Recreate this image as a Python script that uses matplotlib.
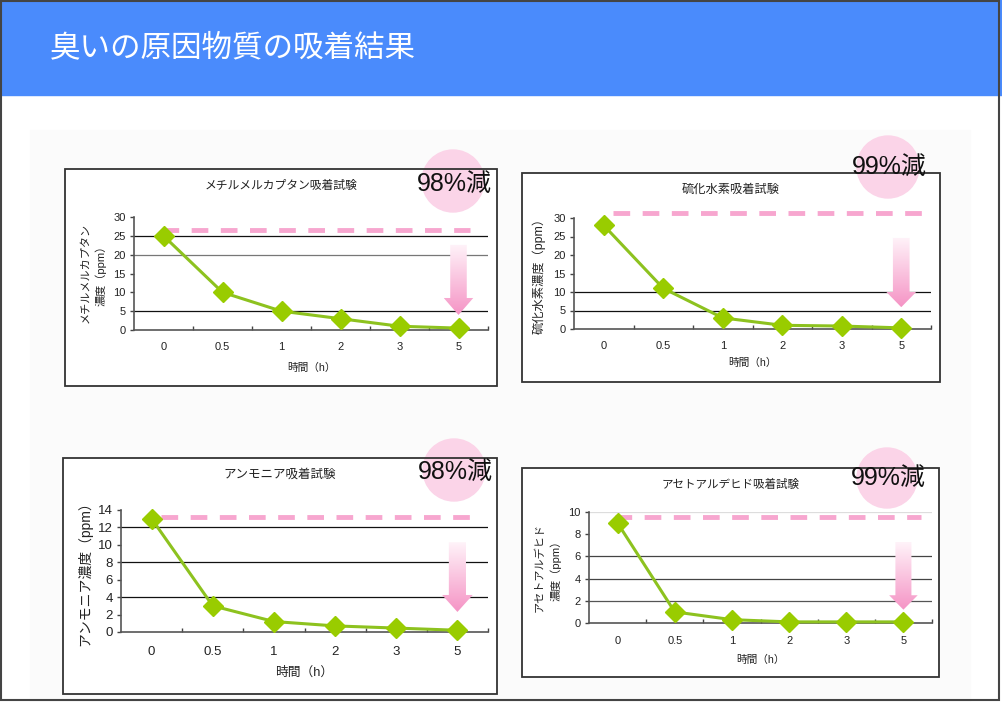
import numpy as np
import matplotlib
matplotlib.use("Agg")
import matplotlib.pyplot as plt
from matplotlib.patches import Rectangle, Circle, Polygon
from matplotlib.colors import to_rgba

plt.rcParams['font.family'] = ['Liberation Sans', 'Noto Sans CJK JP']
plt.rcParams['lines.scale_dashes'] = False

W, H = 1002, 702

# ---------------------------------------------------------
# data
# ---------------------------------------------------------
times = ["0", "0.5", "1", "2", "3", "5"]
methyl_mercaptan = [25, 10, 5, 3, 1, 0.5]
hydrogen_sulfide = [28, 11, 3, 1, 0.8, 0.3]
ammonia = [13, 3, 1.2, 0.7, 0.45, 0.2]
acetaldehyde = [9, 1, 0.3, 0.1, 0.1, 0.1]
start_levels = [26.6, 31.3, 13.25, 9.55]
reductions = ["98%減", "99%減", "98%減", "99%減"]
titles = ["メチルメルカプタン吸着試験", "硫化水素吸着試験",
          "アンモニア吸着試験", "アセトアルデヒド吸着試験"]
ylabels = ["メチルメルカプタン\n濃度（ppm）", "硫化水素濃度（ppm）",
           "アンモニア濃度（ppm）", "アセトアルデヒド\n濃度（ppm）"]
y_max = [30, 30, 14, 10]
y_step = [5, 5, 2, 2]
series = [methyl_mercaptan, hydrogen_sulfide, ammonia, acetaldehyde]

# ---------------------------------------------------------
# layout (pixels)
# ---------------------------------------------------------
panels = [
    dict(frame=(65, 169, 497, 386), plot=(134, 217, 488, 330),
         badge=(453, 181, 31), badge_text_y=184,
         grid=[(25, "#111111"), (20, "#777777"), (5, "#111111")],
         dash=(-0.02, 5.2), arrow=(22.6, 8.5, 4.0),
         fs=8, tfs=8.5, yfs=8, ylab_x=93, ylab_y=273, xlab_y=368, xpad=8.5),
    dict(frame=(522, 173, 940, 382), plot=(574, 218, 931, 329),
         badge=(888, 167, 31), badge_text_y=167,
         grid=[(10, "#111111"), (5, "#111111")],
         dash=(0.15, 5.35), arrow=(24.6, 10.0, 5.9),
         fs=8, tfs=8.8, yfs=8.8, ylab_x=539, ylab_y=273, xlab_y=363, xpad=8.5),
    dict(frame=(63, 458, 497, 694), plot=(121, 510, 488, 632),
         badge=(454, 470, 31), badge_text_y=472,
         grid=[(12, "#111111"), (8, "#111111"), (4, "#111111")],
         dash=(0.16, 5.2), arrow=(10.3, 4.25, 2.3),
         fs=9.5, tfs=9, yfs=10, ylab_x=85, ylab_y=570, xlab_y=673, xpad=10),
    dict(frame=(522, 468, 939, 677), plot=(589, 512, 932, 623),
         badge=(887, 478, 30), badge_text_y=478,
         grid=[(10, "#dddddd"), (6, "#444444"), (4, "#444444"), (2, "#555555")],
         dash=(-0.05, 5.3), arrow=(7.3, 2.5, 1.2),
         fs=8, tfs=8.3, yfs=8, ylab_x=548, ylab_y=568, xlab_y=660, xpad=9.2),
]

LINE = "#8dc21f"
MARK = "#99cc00"
DASH = "#f7a6cf"
BADGE = "#fbd4e8"

fig = plt.figure(figsize=(W / 100, H / 100), dpi=100)

# background layer in pixel coordinates
bg = fig.add_axes([0, 0, 1, 1])
bg.set_xlim(0, W)
bg.set_ylim(H, 0)
bg.axis("off")

bg.add_patch(Rectangle((30, 130), 940, 572, color="#fbfbfb", zorder=0))
bg.add_patch(Rectangle((0, 0), W, 95, color="#4a8bfc", zorder=0))
bg.text(50, 48, "臭いの原因物質の吸着結果", color="white", fontsize=22,
        va="center", ha="left", family=["Noto Sans CJK JP"])

# gradient for the arrows (light at top, pink at bottom)
c_top = np.array(to_rgba("#fff3f9"))
c_bot = np.array(to_rgba("#f594c5"))
t = np.linspace(0, 1, 100)[:, None, None]
grad = c_top * (1 - t) + c_bot * t

x = np.arange(len(times))

for i, p in enumerate(panels):
    fx0, fy0, fx1, fy1 = p["frame"]
    bg.add_patch(Rectangle((fx0, fy0), fx1 - fx0, fy1 - fy0,
                           facecolor="white", edgecolor="none", zorder=0.5))
    cx, cy, r = p["badge"]
    bg.add_patch(Circle((cx, cy), r, color=BADGE, zorder=1))
    bg.add_patch(Rectangle((fx0, fy0), fx1 - fx0, fy1 - fy0,
                           facecolor="none", edgecolor="#333333", lw=1.3, zorder=2))
    bg.text(cx + 1, p["badge_text_y"], reductions[i], fontsize=18, color="#111111",
            ha="center", va="center", zorder=3)
    bg.text((fx0 + fx1) / 2, fy0 + 17, titles[i], fontsize=p["tfs"], color="#222222",
            ha="center", va="center", zorder=3)

    l, tp, rr, b = p["plot"]
    ax = fig.add_axes([l / W, 1 - b / H, (rr - l) / W, (b - tp) / H])
    ax.set_facecolor("none")
    ax.set_xlim(-0.5, 5.5)
    ax.set_ylim(0, y_max[i])

    for lvl, col in p["grid"]:
        ax.axhline(lvl, color=col, lw=0.9, zorder=1)

    ax.plot(p["dash"], [start_levels[i]] * 2, color=DASH, lw=3.5,
            dashes=(12, 9), dash_capstyle="butt", clip_on=False, zorder=2)

    ax.plot(x, series[i], color=LINE, lw=2.2, marker="D", ms=10.5,
            mfc=MARK, mec=MARK, clip_on=False, zorder=4)

    # reduction arrow above the last point
    top, head, tip = p["arrow"]
    xa = x[-1]
    sw, hw = 0.14, 0.25
    poly = Polygon([(xa - sw, top), (xa + sw, top), (xa + sw, head),
                    (xa + hw, head), (xa, tip), (xa - hw, head), (xa - sw, head)],
                   closed=True, facecolor="none", edgecolor="none",
                   transform=ax.transData)
    ax.add_patch(poly)
    im = ax.imshow(grad, extent=[xa - hw, xa + hw, tip, top], aspect="auto",
                   origin="upper", zorder=3, interpolation="bilinear")
    im.set_clip_path(poly)
    ax.set_xlim(-0.5, 5.5)
    ax.set_ylim(0, y_max[i])

    ax.set_xticks(x, times)
    ax.set_xticks(np.arange(0.5, 6, 1), minor=True)
    ax.set_yticks(np.arange(0, y_max[i] + 0.1, y_step[i]))
    ax.tick_params(axis="x", which="major", length=0, pad=p["xpad"],
                   labelsize=p["fs"], labelcolor="#222222")
    ax.tick_params(axis="x", which="minor", direction="in", length=3,
                   color="#444444", width=1)
    ax.tick_params(axis="y", direction="out", length=3, pad=3, width=1,
                   color="#444444", labelsize=p["fs"], labelcolor="#222222")
    for s in ["top", "right"]:
        ax.spines[s].set_visible(False)
    for s in ["left", "bottom"]:
        ax.spines[s].set_color("#555555")
        ax.spines[s].set_linewidth(1.2)

    ax.set_xlabel("時間（h）", fontsize=p["fs"] - 0.3, color="#222222", va="center")
    ax.xaxis.set_label_coords(0.5, (b - p["xlab_y"]) / (b - tp))
    ax.set_ylabel(ylabels[i], fontsize=p["yfs"], color="#222222", va="center",
                  ha="center", multialignment="center", linespacing=1.5)
    ax.yaxis.set_label_coords((p["ylab_x"] - l) / (rr - l),
                              (b - p["ylab_y"]) / (b - tp))

# outer border
bg.add_patch(Rectangle((0.8, 0.8), W - 4, H - 3, facecolor="none",
                       edgecolor="#444444", lw=1.5, zorder=5))

fig.savefig("out.png", dpi=100)
